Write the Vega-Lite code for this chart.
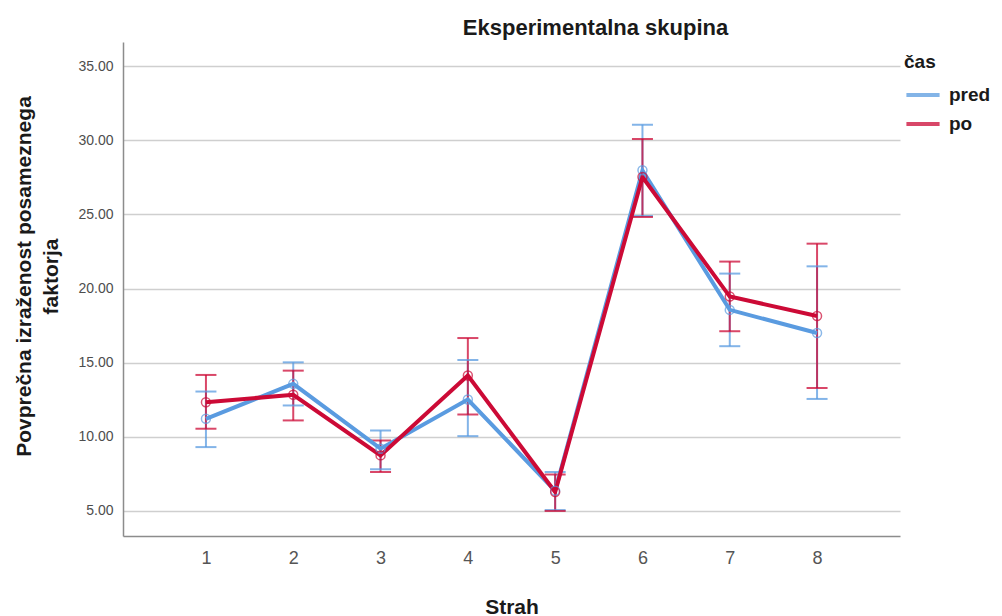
{
  "$schema": "https://vega.github.io/schema/vega-lite/v6.json",
  "autosize": {"type": "none"},
  "width": 777,
  "height": 494,
  "padding": {"left": 123, "top": 42, "right": 102, "bottom": 80},
  "background": "white",
  "config": {"view": {"stroke": null}},
  "title": {
    "text": "Eksperimentalna skupina",
    "font": "Liberation Sans",
    "fontSize": 22,
    "fontWeight": "bold",
    "color": "#1a1a1a",
    "anchor": "middle",
    "dx": 84,
    "dy": 22,
    "baseline": "alphabetic",
    "offset": 7
  },
  "data": {
    "values": [
      {"strah": 1, "cas": "pred", "mean": 11.21, "lo": 9.30, "hi": 13.05},
      {"strah": 2, "cas": "pred", "mean": 13.57, "lo": 12.11, "hi": 15.02},
      {"strah": 3, "cas": "pred", "mean": 9.19, "lo": 7.80, "hi": 10.42},
      {"strah": 4, "cas": "pred", "mean": 12.51, "lo": 10.04, "hi": 15.18},
      {"strah": 5, "cas": "pred", "mean": 6.35, "lo": 5.05, "hi": 7.62},
      {"strah": 6, "cas": "pred", "mean": 27.98, "lo": 24.90, "hi": 31.06},
      {"strah": 7, "cas": "pred", "mean": 18.56, "lo": 16.11, "hi": 21.01},
      {"strah": 8, "cas": "pred", "mean": 17.00, "lo": 12.55, "hi": 21.50},
      {"strah": 1, "cas": "po", "mean": 12.33, "lo": 10.54, "hi": 14.17},
      {"strah": 2, "cas": "po", "mean": 12.83, "lo": 11.10, "hi": 14.46},
      {"strah": 3, "cas": "po", "mean": 8.74, "lo": 7.62, "hi": 9.75},
      {"strah": 4, "cas": "po", "mean": 14.13, "lo": 11.50, "hi": 16.66},
      {"strah": 5, "cas": "po", "mean": 6.27, "lo": 4.99, "hi": 7.45},
      {"strah": 6, "cas": "po", "mean": 27.53, "lo": 24.83, "hi": 30.09},
      {"strah": 7, "cas": "po", "mean": 19.46, "lo": 17.12, "hi": 21.82},
      {"strah": 8, "cas": "po", "mean": 18.15, "lo": 13.29, "hi": 23.03}
    ]
  },
  "encoding": {
    "x": {
      "field": "strah",
      "type": "ordinal",
      "scale": {"type": "point", "padding": 0.95},
      "axis": {
        "title": "Strah",
        "titleFont": "Liberation Sans",
        "titleFontSize": 21,
        "titleFontWeight": "bold",
        "titleColor": "#1a1a1a",
        "titleY": 77,
        "titleBaseline": "alphabetic",
        "labelAngle": 0,
        "labelFont": "Liberation Sans",
        "labelFontSize": 18,
        "labelColor": "#555555",
        "labelPadding": 13,
        "ticks": false,
        "domainColor": "#8c8c8c",
        "domainWidth": 1.5,
        "grid": false
      }
    },
    "color": {
      "field": "cas",
      "type": "nominal",
      "scale": {"domain": ["pred", "po"], "range": ["#5a9be0", "#cc0a36"]},
      "legend": {
        "title": "čas",
        "orient": "none",
        "legendX": 781,
        "legendY": 11,
        "titleFont": "Liberation Sans",
        "titleFontSize": 19,
        "titleFontWeight": "bold",
        "titleColor": "#1a1a1a",
        "titlePadding": 4,
        "labelFont": "Liberation Sans",
        "labelFontSize": 19,
        "labelFontWeight": "bold",
        "labelColor": "#1a1a1a",
        "labelOffset": 7,
        "symbolType": "stroke",
        "symbolStrokeWidth": 4,
        "symbolSize": 1100,
        "rowPadding": -3
      }
    }
  },
  "layer": [
    {
      "mark": {"type": "rule", "strokeWidth": 2, "opacity": 0.75},
      "encoding": {
        "y": {
          "field": "lo",
          "type": "quantitative",
          "scale": {"domain": [3.3, 36.64], "nice": false, "zero": false},
          "axis": {
            "title": ["Povprečna izraženost posameznega", "faktorja"],
            "titleFont": "Liberation Sans",
            "titleFontSize": 21,
            "titleFontWeight": "bold",
            "titleColor": "#1a1a1a",
            "titleLineHeight": 27,
            "titlePadding": 16,
            "titleY": 234,
            "values": [5, 10, 15, 20, 25, 30, 35],
            "format": ".2f",
            "labelFont": "Liberation Sans",
            "labelFontSize": 14,
            "labelColor": "#4d4d4d",
            "labelPadding": 10,
            "ticks": false,
            "domainColor": "#8c8c8c",
            "domainWidth": 1.5,
            "grid": true,
            "gridColor": "#cfcfcf",
            "gridWidth": 1.5
          }
        },
        "y2": {"field": "hi"}
      }
    },
    {
      "mark": {"type": "tick", "thickness": 2, "size": 21, "opacity": 0.75},
      "encoding": {"y": {"field": "lo", "type": "quantitative"}}
    },
    {
      "mark": {"type": "tick", "thickness": 2, "size": 21, "opacity": 0.75},
      "encoding": {"y": {"field": "hi", "type": "quantitative"}}
    },
    {
      "mark": {"type": "line", "strokeWidth": 4},
      "encoding": {"y": {"field": "mean", "type": "quantitative"}}
    },
    {
      "mark": {"type": "point", "filled": false, "size": 80, "strokeWidth": 1.5, "opacity": 0.7},
      "encoding": {"y": {"field": "mean", "type": "quantitative"}}
    }
  ]
}
